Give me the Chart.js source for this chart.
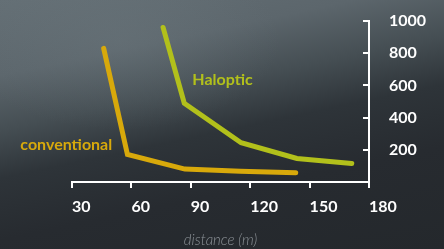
<!DOCTYPE html>
<html lang="en">
<head>
  <meta charset="UTF-8">
  <title>Haloptic vs conventional</title>
  <style>
    html, body { margin: 0; padding: 0; }
    body {
      width: 444px; height: 249px; overflow: hidden;
      background:
        radial-gradient(ellipse 160px 90px at 120px 40px, rgba(110,122,128,0.35), rgba(110,122,128,0) 100%),
        linear-gradient(168deg, #646f75 0%, #5c666c 22%, #454e53 38%, #2e3439 52%, #272b30 70%, #24282c 100%);
      font-family: Lato, "Open Sans", sans-serif;
    }
    .wrap { position: relative; width: 444px; height: 249px; }
  </style>
</head>
<body>
  <div class="wrap"><canvas id="chart" width="444" height="249"></canvas></div>

  <script src="https://cdn.jsdelivr.net/npm/chart.js"></script>
  <script>
    // values
    const convX = [46, 58, 87, 115, 143];
    const convY = [830, 171, 80, 67, 57];
    const haloX = [76, 86.7, 115.4, 143.6, 171.3];
    const haloY = [960, 489, 244, 146, 115];
    const yTicks = [200, 400, 600, 800, 1000];

    // series labels, placed in data units
    const seriesNames = ['conventional', 'Haloptic'];
    const nameX = [50.3, 106];
    const nameY = [230, 634];
    const nameAlign = ['right', 'center'];

    const GOLD = '#d8a90b';
    const LIME = '#b2c01b';

    const toPoints = (xs, ys) => xs.map((x, i) => ({ x: x, y: ys[i] }));

    const seriesLabels = {
      id: 'seriesLabels',
      afterDatasetsDraw(chart) {
        const { ctx, scales } = chart;
        const colors = [GOLD, LIME];
        ctx.save();
        ctx.font = 'bold 16px Lato, sans-serif';
        ctx.textBaseline = 'middle';
        seriesNames.forEach((t, i) => {
          ctx.fillStyle = colors[i];
          ctx.textAlign = nameAlign[i];
          ctx.fillText(t, scales.x.getPixelForValue(nameX[i]), scales.y.getPixelForValue(nameY[i]));
        });
        ctx.restore();
      }
    };

    // y tick marks point inward (to the left of the right-hand axis)
    const innerTicks = {
      id: 'innerTicks',
      afterDraw(chart) {
        const { ctx, scales } = chart;
        const x0 = scales.y.left;
        ctx.save();
        ctx.strokeStyle = '#ffffff';
        ctx.lineWidth = 2;
        yTicks.forEach(v => {
          const y = Math.round(scales.y.getPixelForValue(v));
          ctx.beginPath();
          ctx.moveTo(x0, y);
          ctx.lineTo(x0 - 6, y);
          ctx.stroke();
        });
        ctx.restore();
      }
    };

    new Chart(document.getElementById('chart'), {
      type: 'line',
      data: {
        datasets: [
          { label: seriesNames[0], data: toPoints(convX, convY), borderColor: GOLD },
          { label: seriesNames[1], data: toPoints(haloX, haloY), borderColor: LIME }
        ]
      },
      options: {
        responsive: false,
        animation: false,
        layout: { padding: { left: 72, top: 21, right: 0, bottom: 0 } },
        elements: {
          line: { borderWidth: 5, borderCapStyle: 'round', borderJoinStyle: 'miter', tension: 0 },
          point: { radius: 0 }
        },
        plugins: { legend: { display: false }, tooltip: { enabled: false } },
        scales: {
          x: {
            type: 'linear', position: 'bottom', min: 30, max: 180,
            afterFit: s => { s.height = 67; s.paddingLeft = 0; s.paddingRight = 0; },
            ticks: { stepSize: 30, align: 'start', color: '#ffffff', padding: 9, font: { family: 'Lato', size: 16, weight: 'bold' } },
            grid: { drawOnChartArea: false, drawTicks: true, tickLength: 6, color: '#ffffff', lineWidth: 2 },
            border: { display: true, color: '#ffffff', width: 2 },
            title: {
              display: true, text: 'distance (m)', color: '#8b9196',
              padding: { top: 0, bottom: 0 },
              font: { family: 'Lato', size: 15, style: 'italic', weight: '300' }
            }
          },
          y: {
            type: 'linear', position: 'right', min: 0, max: 1000,
            afterFit: s => { s.width = 75; s.paddingTop = 0; s.paddingBottom = 0; },
            afterBuildTicks: s => { s.ticks = yTicks.map(v => ({ value: v })); },
            ticks: {
              color: '#ffffff', padding: 20,
              font: { family: 'Lato', size: 16, weight: 'bold' },
              callback: v => String(v)
            },
            grid: { drawOnChartArea: false, drawTicks: false, color: '#ffffff', lineWidth: 2 },
            border: { display: true, color: '#ffffff', width: 2 }
          }
        }
      },
      plugins: [seriesLabels, innerTicks]
    });
  </script>
</body>
</html>
